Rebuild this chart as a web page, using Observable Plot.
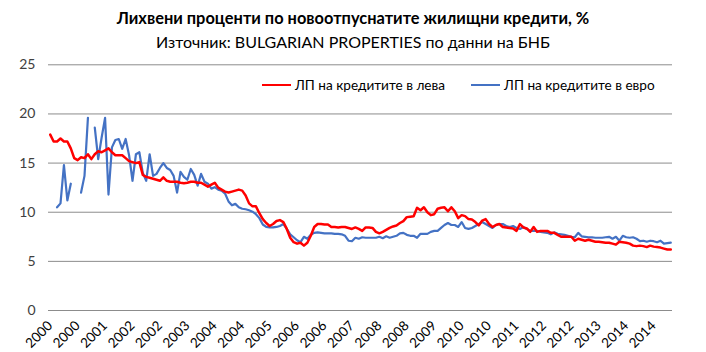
<!DOCTYPE html>
<html>
<head>
<meta charset="utf-8">
<script src="https://cdn.jsdelivr.net/npm/d3@7"></script>
<script src="https://cdn.jsdelivr.net/npm/@observablehq/plot@0.6"></script>
<style>
  html, body { margin: 0; padding: 0; background: #fff; }
  body { width: 706px; height: 352px; position: relative; overflow: hidden; font-family: Lato, "Open Sans", sans-serif; }
  #title { position: absolute; left: 0; width: 706px; top: 8px; text-align: center; font-weight: bold; font-size: 16.4px; color: #000; line-height: 20px; }
  #subtitle { position: absolute; left: 0; width: 706px; top: 32px; text-align: center; font-size: 16px; color: #000; line-height: 20px; }
  #chart { position: absolute; left: 0; top: 52px; }
  #legend { position: absolute; top: 77px; left: 262px; font-size: 13.6px; color: #000; display: flex; align-items: center; white-space: nowrap; }
  .item { display: flex; align-items: center; }
  .sw { display: inline-block; width: 29px; height: 0; margin-right: 4px; }
</style>
</head>
<body>
<div id="title"></div>
<div id="subtitle"></div>
<div id="chart"></div>
<div id="legend"></div>
<script>
const titleText = "Лихвени проценти по новоотпуснатите жилищни кредити, %";
const subtitleText = "Източник: BULGARIAN PROPERTIES по данни на БНБ";
const seriesNames = ["ЛП на кредитите в лева", "ЛП на кредитите в евро"];
const seriesColors = ["#FF0000", "#4472C4"];
const yTicks = [0, 5, 10, 15, 20, 25];
// one label every 8 months, starting Jan 2000
const tickYears = ["2000","2000","2001","2002","2002","2003","2004","2004","2005","2006","2006","2007","2008","2008","2009","2010","2010","2011","2012","2012","2013","2014","2014"];

// monthly values, Jan 2000 onward
const lev = [
  17.9,17.2,17.2,17.5,17.2,17.2,16.5,15.5,15.3,15.6,
  15.5,15.9,15.4,15.9,16.2,16.1,16.3,16.5,16.1,15.8,
  15.8,15.8,15.5,15.2,15.1,15.0,15.1,13.8,13.6,13.5,
  13.4,13.3,13.2,13.55,13.2,13.1,13.1,13.1,13.0,12.95,
  13.0,13.1,13.1,13.0,13.0,12.8,12.6,12.8,13.0,12.5,
  12.3,12.1,12.0,12.1,12.2,12.3,12.2,11.7,10.9,10.6,
  10.6,9.9,9.3,8.9,8.6,8.8,9.1,9.2,9.0,8.3,
  7.4,6.95,6.8,6.9,6.6,6.9,7.6,8.5,8.8,8.8,
  8.75,8.75,8.5,8.5,8.45,8.5,8.5,8.4,8.3,8.45,
  8.3,8.1,8.45,8.45,8.4,8.0,7.85,8.0,8.2,8.4,
  8.55,8.65,8.9,9.1,9.5,9.55,9.6,10.45,10.2,10.5,
  10.0,9.7,9.8,10.35,10.45,10.5,10.1,10.5,10.1,9.4,
  9.7,9.6,9.3,9.25,9.0,8.65,9.15,9.3,8.8,8.5,
  8.7,8.8,8.5,8.45,8.4,8.35,8.1,8.8,8.45,8.35,
  8.0,8.5,8.0,8.1,8.1,8.1,7.9,7.9,7.7,7.5,
  7.5,7.5,7.5,7.1,7.3,7.2,7.1,7.2,7.1,7.0,
  7.0,6.95,6.9,6.9,6.8,6.7,7.0,6.95,6.9,6.8,
  6.6,6.55,6.6,6.55,6.45,6.6,6.5,6.45,6.4,6.3,
  6.2,6.2
];
const euro = [
  null,null,10.5,10.9,14.8,11.2,12.9,null,null,12.0,
  13.7,19.6,null,18.6,15.4,17.6,19.6,11.8,16.6,17.35,
  17.45,16.45,17.45,15.8,13.2,15.9,16.1,14.0,13.2,15.9,
  13.7,13.9,14.5,15.0,14.5,14.3,13.7,12.0,14.1,13.6,
  13.3,14.4,13.8,12.7,13.9,13.1,12.9,12.4,12.55,12.3,
  12.2,11.9,11.1,10.7,10.85,10.5,10.35,10.3,10.2,10.05,
  9.8,9.4,8.75,8.5,8.45,8.45,8.5,8.6,8.8,8.3,
  7.75,7.45,7.15,6.95,7.5,7.3,7.7,7.9,7.95,7.9,
  7.85,7.85,7.85,7.8,7.8,7.75,7.6,7.1,7.05,7.4,
  7.3,7.45,7.4,7.4,7.4,7.4,7.5,7.35,7.55,7.4,
  7.5,7.6,7.85,7.9,7.7,7.6,7.6,7.4,7.8,7.8,
  7.8,8.0,8.1,8.1,8.4,8.7,8.9,8.7,8.7,8.5,
  9.0,8.4,8.3,8.4,8.6,8.8,9.0,8.8,8.6,8.4,
  8.7,8.8,8.8,8.6,8.5,8.6,8.4,8.3,8.5,8.3,
  8.1,8.1,8.1,8.0,7.95,7.9,7.75,7.95,7.8,7.75,
  7.7,7.6,7.5,7.45,7.9,7.55,7.5,7.45,7.45,7.4,
  7.4,7.4,7.45,7.5,7.3,7.5,7.1,7.6,7.45,7.4,
  7.45,7.3,7.05,7.1,7.0,7.1,7.05,6.95,7.1,6.8,
  6.85,6.9
];

const data = lev.map((v, i) => ({i, lev: v, euro: euro[i]}));
const tickIdx = tickYears.map((_, k) => k * 8);

document.getElementById("title").textContent = titleText;
document.getElementById("subtitle").textContent = subtitleText;

const chart = Plot.plot({
  width: 706,
  height: 300,
  marginLeft: 48,
  marginRight: 34,
  marginTop: 12.3,
  marginBottom: 42,
  style: {fontFamily: "Lato, 'Open Sans', sans-serif", background: "#fff", overflow: "visible"},
  x: {domain: [-0.5, lev.length - 0.5]},
  y: {domain: [0, 25]},
  marks: [
    Plot.gridY(yTicks, {stroke: "#8c8c8c", strokeOpacity: 1, strokeWidth: 1}),
    Plot.axisY(yTicks, {tickSize: 0, tickPadding: 13, fontSize: 14, fill: "#404040", label: null}),
    Plot.axisX(tickIdx, {tickSize: 0, tickRotate: -45, tickPadding: 13, fontSize: 13.5, fill: "#000",
      tickFormat: (d) => tickYears[d / 8], label: null}),
    Plot.line(data, {x: "i", y: "euro", stroke: seriesColors[1], strokeWidth: 2.2, curve: "linear"}),
    Plot.line(data, {x: "i", y: "lev", stroke: seriesColors[0], strokeWidth: 2.5, curve: "linear"})
  ]
});
document.getElementById("chart").appendChild(chart);

const legend = document.getElementById("legend");
seriesNames.forEach((name, k) => {
  const item = document.createElement("span");
  item.className = "item";
  if (k > 0) item.style.marginLeft = "26px";
  const sw = document.createElement("span");
  sw.className = "sw";
  sw.style.borderTop = `${k === 0 ? 2.5 : 2}px solid ${seriesColors[k]}`;
  const t = document.createElement("span");
  t.textContent = name;
  item.appendChild(sw);
  item.appendChild(t);
  legend.appendChild(item);
});
</script>
</body>
</html>
